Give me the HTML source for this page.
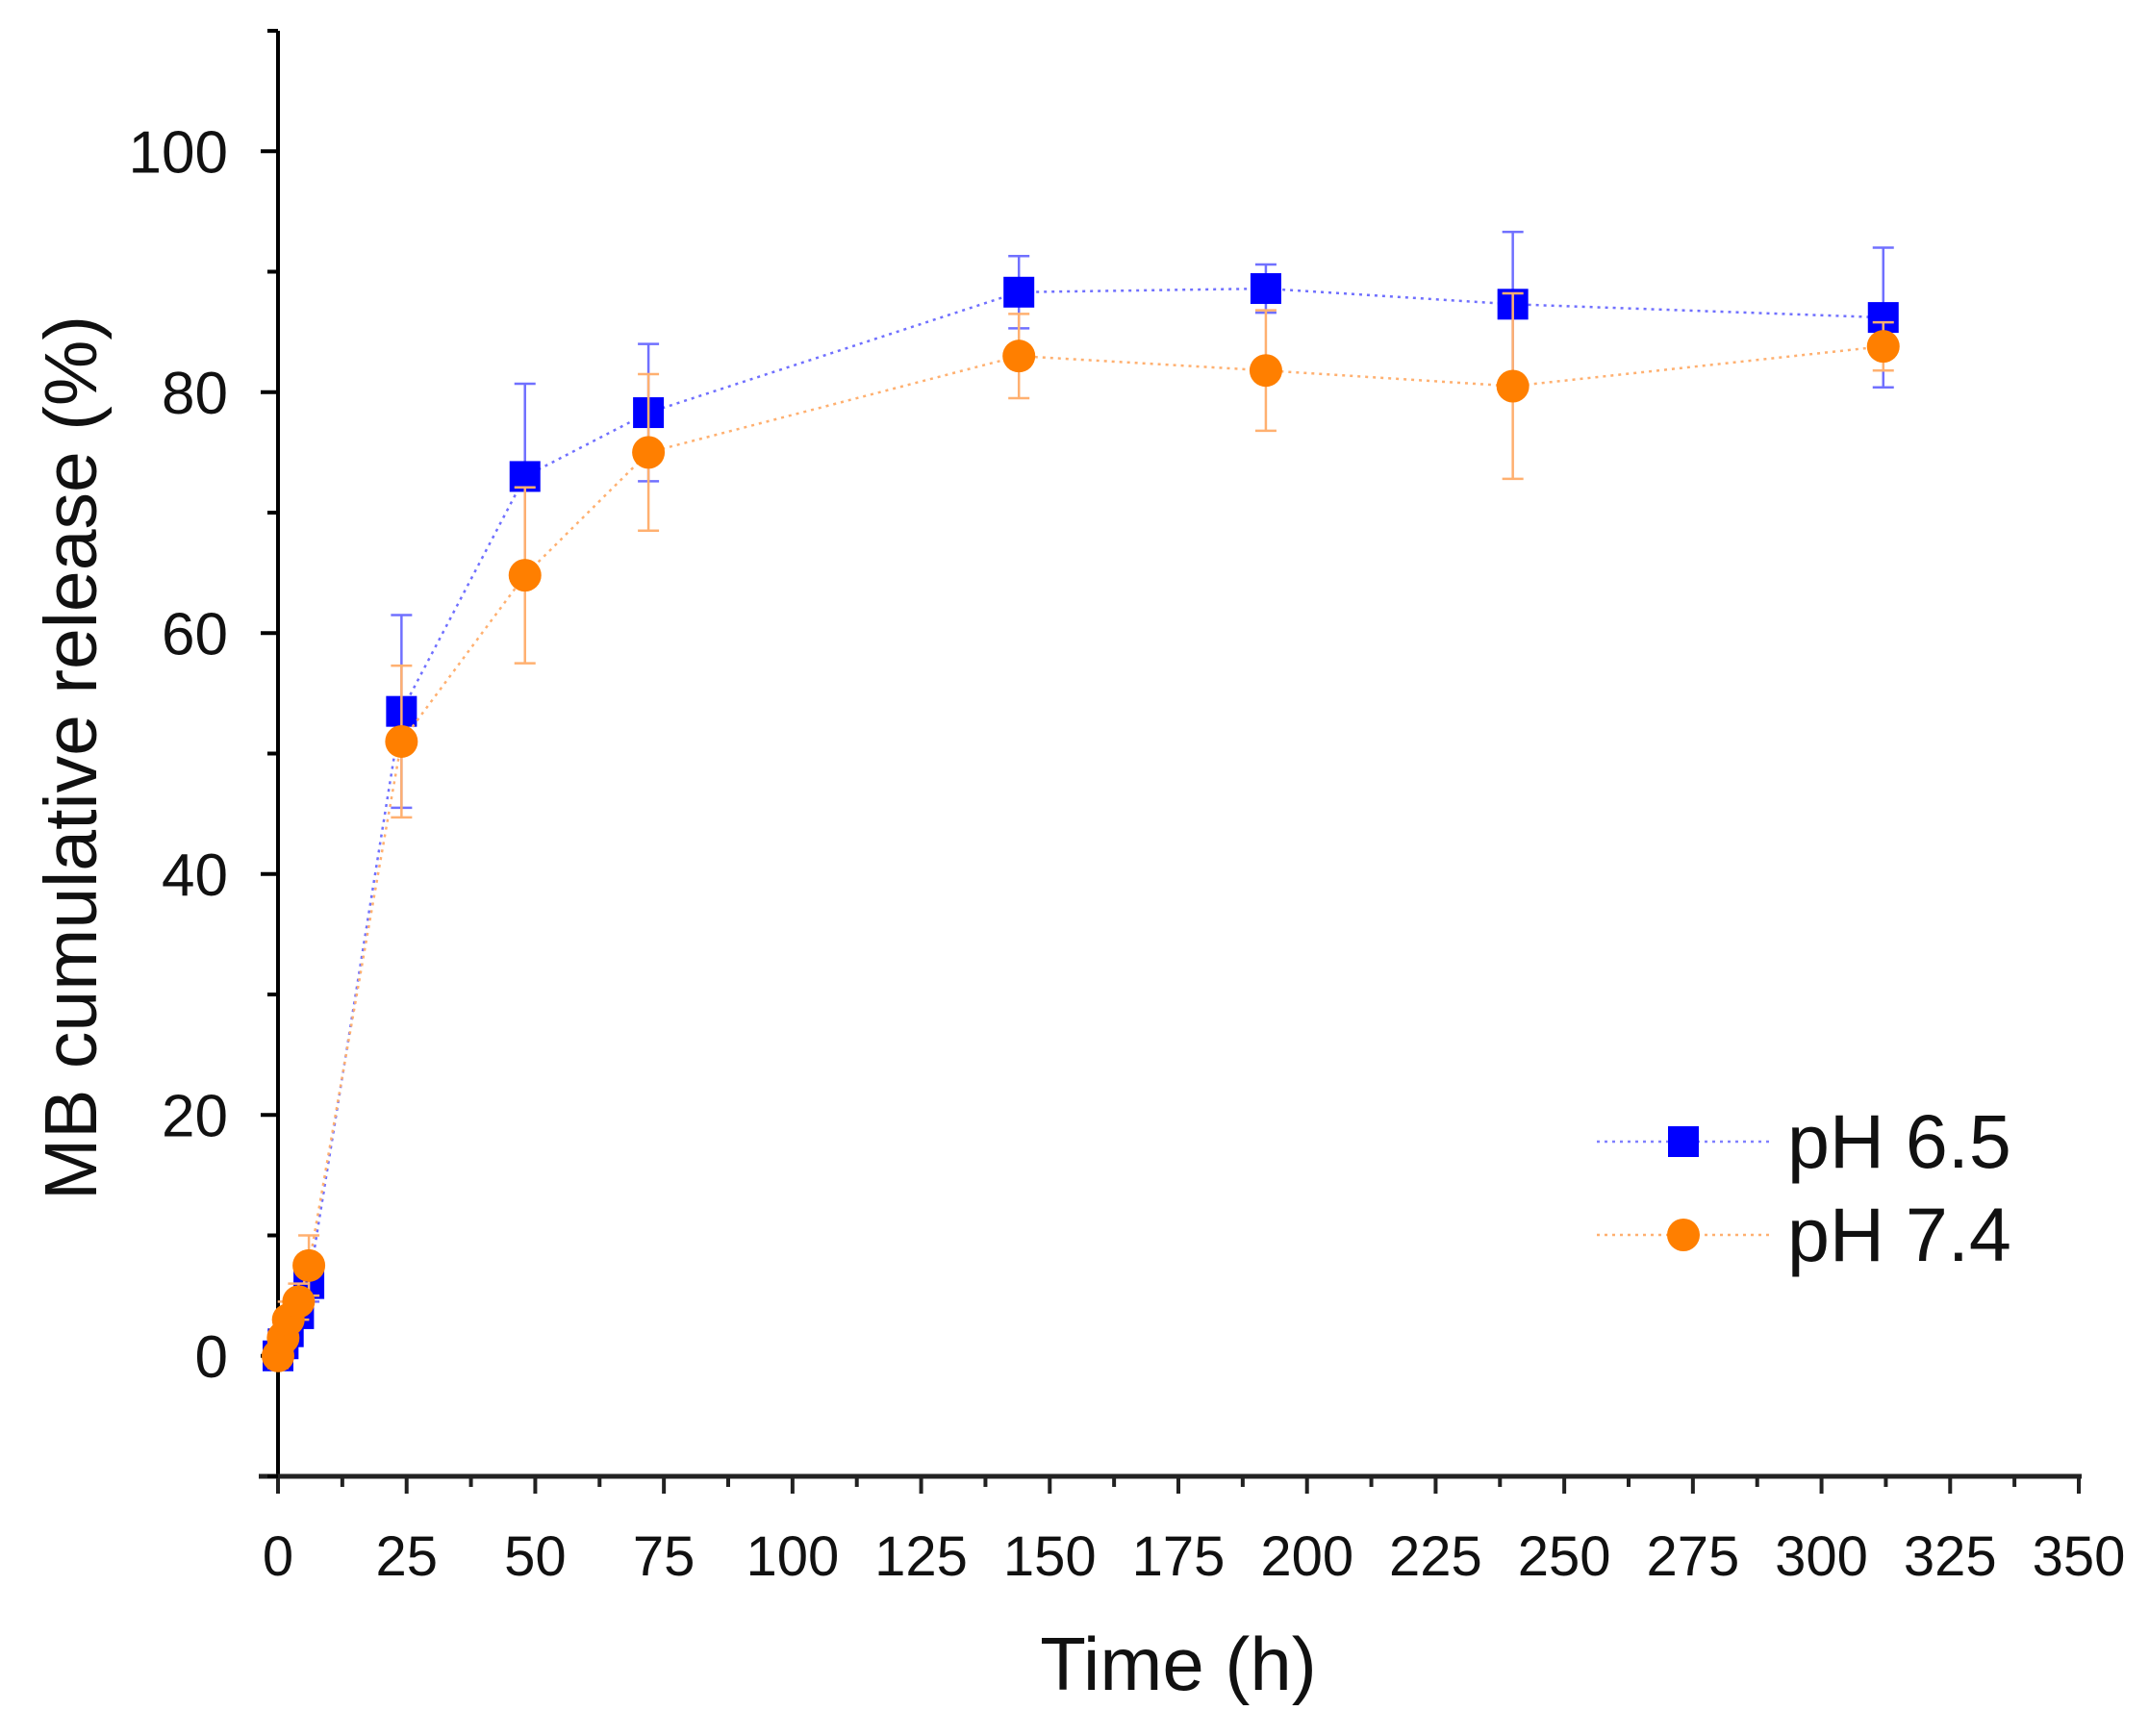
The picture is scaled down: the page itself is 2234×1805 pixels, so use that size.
<!DOCTYPE html>
<html><head><meta charset="utf-8"><style>
html,body{margin:0;padding:0;background:#fff;}
svg{display:block;font-family:"Liberation Sans",Arial,sans-serif;}
</style></head><body>
<svg id="chart" width="2234" height="1805" viewBox="0 0 2234 1805" xmlns="http://www.w3.org/2000/svg">
<g id="axes"></g>
<g id="series"></g>
<g id="legend"></g>
</svg>
<script>
const times = [0, 1, 2, 4, 6, 24, 48, 72, 144, 192, 240, 312];
const ph65 = [0, 1, 2, 3.5, 6, 53.5, 73, 78.3, 88.3, 88.6, 87.3, 86.2];
const ph65Err = [1, 1, 1, 1, 1.5, 8, 7.7, 5.7, 3, 2, 6, 5.8];
const ph74 = [0, 1.5, 3, 4.5, 7.5, 51, 64.8, 75, 83, 81.8, 80.5, 83.8];
const ph74Err = [1, 1, 1.5, 1.5, 2.5, 6.3, 7.3, 6.5, 3.5, 5, 7.7, 2];
const xTicks = [0,25,50,75,100,125,150,175,200,225,250,275,300,325,350];
const yTicks = [0,20,40,60,80,100];

const X0=289, X1=2161, XMIN=0, XMAX=350;
const Y0=1535, Y1=32, YMIN=-10, YMAX=110;
const sx = v => X0 + (v-XMIN)/(XMAX-XMIN)*(X1-X0);
const sy = v => Y0 - (v-YMIN)/(YMAX-YMIN)*(Y0-Y1);
const NS="http://www.w3.org/2000/svg";
function mk(tag, attrs, parent){const e=document.createElementNS(NS,tag);for(const k in attrs)e.setAttribute(k,attrs[k]);parent.appendChild(e);return e;}
const axes=document.getElementById('axes');
const series=document.getElementById('series');
const legend=document.getElementById('legend');

let el;
el=mk('line',{x1:X0,y1:Y1,x2:X0,y2:Y0+3,stroke:'#000','stroke-width':4},axes);


el=mk('line',{x1:X0-20,y1:Y0,x2:X1+3,y2:Y0,stroke:'#222','stroke-width':5},axes);



for(let v=0; v<=350; v+=12.5){
  const major = v%25===0;
  el=mk('line',{x1:sx(v),y1:Y0,x2:sx(v),y2:Y0+(major?18:11),stroke:'#222','stroke-width':4},axes);
  
  
}
xTicks.forEach(t=>{
  el=mk('text',{x:sx(t),y:1638,'font-size':58,'text-anchor':'middle',fill:'#111'},axes);
  el.textContent=t;
  
  
});
for(let v=-10; v<=110; v+=10){
  const major = v%20===0;
  el=mk('line',{x1:X0,y1:sy(v),x2:X0-(major?18:11),y2:sy(v),stroke:'#000','stroke-width':4},axes);
  
  
}
yTicks.forEach(t=>{
  el=mk('text',{x:237,y:sy(t)+22,'font-size':62,'text-anchor':'end',fill:'#111'},axes);
  el.textContent=t;
  
  
});
el=mk('text',{x:1225,y:1757,'font-size':78,'text-anchor':'middle',fill:'#111'},axes);
el.textContent='Time (h)';


el=mk('text',{x:0,y:0,'font-size':77,'text-anchor':'middle',fill:'#111',transform:'translate(100,788) rotate(-90)'},axes);
el.textContent='MB cumulative release (%)';



function drawSeries(vals, errs, color, lineColor, shape, name){
  const g=mk('g',{},series);
  
  
  const pts=times.map((t,i)=>sx(t)+','+sy(vals[i])).join(' ');
  el=mk('polyline',{points:pts,fill:'none',stroke:lineColor,'stroke-width':2.5,'stroke-dasharray':'3,5'},g);
  
  
  times.forEach((t,i)=>{
    const x=sx(t), yt=sy(vals[i]+errs[i]), yb=sy(vals[i]-errs[i]);
    el=mk('path',{d:`M${x},${yt}V${yb}M${x-11},${yt}H${x+11}M${x-11},${yb}H${x+11}`,stroke:lineColor,'stroke-width':2.5,fill:'none'},g);
    
    
  });
  times.forEach((t,i)=>{
    const x=sx(t), y=sy(vals[i]);
    if(shape==='square'){
      el=mk('rect',{x:x-16,y:y-16,width:32,height:32,fill:color},g);
    } else {
      el=mk('circle',{cx:x,cy:y,r:17,fill:color},g);
    }
    
    
  });
}
drawSeries(ph65, ph65Err, '#0000ff', '#7070ff', 'square', 'ph-6-5');
drawSeries(ph74, ph74Err, '#ff7f00', '#ffb070', 'circle', 'ph-7-4');

function legendEntry(y, color, lineColor, shape, label, name){
  const g=mk('g',{},legend);
  
  
  el=mk('line',{x1:1660,y1:y,x2:1840,y2:y,stroke:lineColor,'stroke-width':2.5,'stroke-dasharray':'3,5'},g);
  
  
  if(shape==='square') el=mk('rect',{x:1734,y:y-16,width:32,height:32,fill:color},g);
  else el=mk('circle',{cx:1750,cy:y,r:17,fill:color},g);
  
  
  el=mk('text',{x:1858,y:y+27,'font-size':79,fill:'#111'},g);
  el.textContent=label;
  
  
}
legendEntry(1187,'#0000ff','#8080ff','square','pH 6.5','ph-6-5');
legendEntry(1284,'#ff7f00','#ffb070','circle','pH 7.4','ph-7-4');
</script>
</body></html>
